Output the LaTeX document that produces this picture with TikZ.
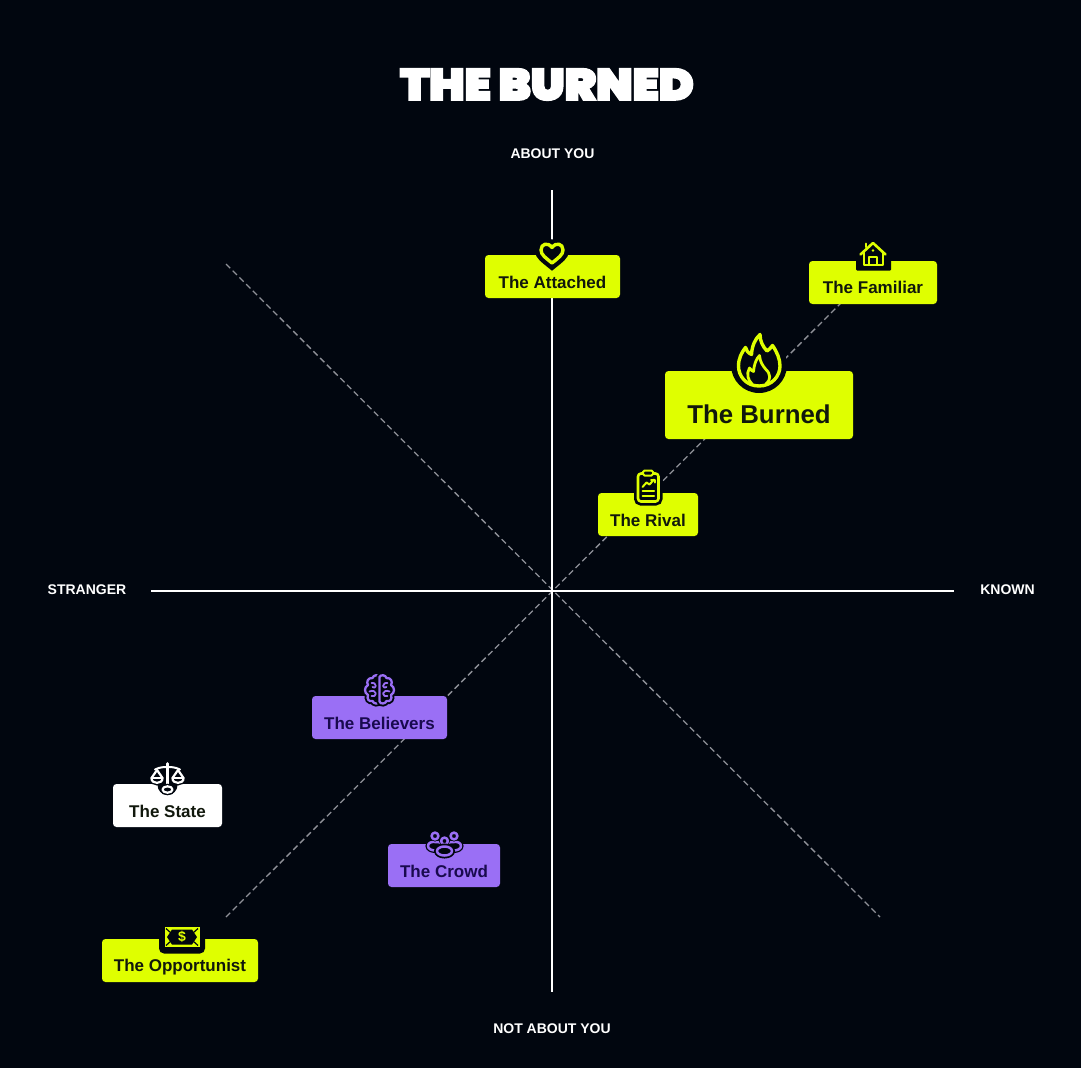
\documentclass[tikz,border=0pt]{standalone}
\usepackage{fontspec}
\setmainfont{Liberation Sans}[BoldFont=* Bold]
\newfontfamily\titlefont[FakeBold=5,FakeStretch=1.08]{Poppins Black}
\definecolor{bg}{HTML}{01060F}
\definecolor{limec}{HTML}{DFFF00}
\definecolor{purp}{HTML}{9A6FF5}
\definecolor{darklime}{HTML}{11180C}
\definecolor{darkpurp}{HTML}{190A4E}
\definecolor{dashc}{HTML}{8F9198}
\newcommand{\lift}[2]{\smash{\raisebox{-#1pt}{#2}}}
\tikzset{
  x=1pt,y=-1pt,
  axisline/.style={draw=white,line width=2pt},
  diag/.style={draw=dashc,line width=1.3pt,dash pattern=on 6pt off 3.5pt},
  tagbox/.style={inner sep=0pt,outer sep=0pt,rounded corners=3.5pt,font=\bfseries\fontsize{17}{20}\selectfont},
  limetag/.style={tagbox,fill=limec,text=darklime},
  purptag/.style={tagbox,fill=purp,text=darkpurp},
  whitetag/.style={tagbox,fill=white,text=darklime},
  axislabel/.style={inner sep=0pt,text=white,font=\bfseries\fontsize{14}{16}\selectfont},
  icon/.style 2 args={draw=#1,line width=2.6pt,line join=round,line cap=round,preaction={draw=bg,fill=bg,line width=#2}},
  detail/.style={draw=#1,line width=2pt,line join=round,line cap=round},
  halo/.style={fill=bg,draw=none}
}
\begin{document}
\begin{tikzpicture}
\fill[bg] (0,0) rectangle (1081,1068);
\useasboundingbox (0,0) rectangle (1081,1068);
% title
\node[inner sep=0pt,text=white] (title) at (547,84.5) {\titlefont\fontsize{43.5}{48}\selectfont THE BURNED};
% axis ends
\coordinate (top) at (552,190);
\coordinate (bottom) at (552,992);
\coordinate (left) at (151,591);
\coordinate (right) at (954,591);
\coordinate (dA) at (226,264);
\coordinate (dB) at (880,917);
\coordinate (dC) at (226,917);
\coordinate (dD) at (880,264);
\draw[diag] (dA) -- (dB);
\draw[diag] (dC) -- (dD);
\draw[axisline] (top) -- (bottom);
\draw[axisline] (left) -- (right);
% axis labels
\node[axislabel] (about) at (552.5,153.5) {ABOUT YOU};
\node[axislabel] (notabout) at (552,1028.5) {NOT ABOUT YOU};
\node[axislabel] (stranger) at (87,589.5) {STRANGER};
\node[axislabel] (known) at (1007.5,589.5) {KNOWN};
% tag boxes
\node[limetag,minimum width=135pt,minimum height=43pt] (attached) at (552.5,276.5) {\lift{11.5}{The Attached}};
\node[limetag,minimum width=128pt,minimum height=43pt] (familiar) at (873,282.5) {\lift{10.5}{The Familiar}};
\node[limetag,minimum width=188pt,minimum height=68pt,font=\bfseries\fontsize{25.8}{30}\selectfont] (burned) at (759,405) {\lift{18}{The Burned}};
\node[limetag,minimum width=100pt,minimum height=43pt] (rival) at (648,514.5) {\lift{11.5}{The Rival}};
\node[purptag,minimum width=135pt,minimum height=43pt] (believers) at (379.5,717.5) {\lift{11.5}{The Believers}};
\node[whitetag,minimum width=109pt,minimum height=43pt] (state) at (167.5,805.5) {\lift{11.5}{The State}};
\node[purptag,minimum width=112pt,minimum height=43pt] (crowd) at (444,865.5) {\lift{11.5}{The Crowd}};
\node[limetag,minimum width=156pt,minimum height=43pt] (opportunist) at (180,960.5) {\lift{11}{The Opportunist}};
% heart
\draw[icon={limec}{12pt},line width=3.4pt] (552,263) .. controls (546,258) and (541,255) .. (541,250) .. controls (541,243.5) and (548,242) .. (552,247.5) .. controls (556,242) and (563,243.5) .. (563,250) .. controls (563,255) and (558,258) .. (552,263) -- cycle;
% house
\fill[halo,rounded corners=1pt] (856,252) rectangle (891,270.5);
\draw[icon={limec}{1pt}] (860.5,254.5) -- (873,243) -- (885.5,254.5);
\draw[detail=limec] (863.5,252) -- (863.5,264.5) -- (882.5,264.5) -- (882.5,252);
\draw[detail=limec] (869,264.5) -- (869,257) -- (877,257) -- (877,264.5);
\draw[detail=limec] (865.5,243.5) -- (865.5,247);
\fill[limec] (873,250.5) circle (1.3);
% flame
\fill[halo] (759,365) circle (28);
\draw[icon={limec}{8pt},line width=3.4pt,miter limit=2] (759,386) .. controls (746,386) and (738.5,376) .. (738.5,366) .. controls (738.5,358) and (742,352) .. (745.5,347.5) .. controls (746,350) and (748,353) .. (751.5,354.5) .. controls (752,346) and (755,339) .. (760,334.5) .. controls (760,341) and (763,347) .. (767,351) .. controls (769,349.5) and (771,348) .. (772.5,345.5) .. controls (777,352) and (780,359) .. (780,366) .. controls (780,376) and (772,386) .. (759,386) -- cycle;
\draw[detail=limec,line width=2.8pt] (752,384) .. controls (748,380) and (746,374) .. (749.5,368) .. controls (751,370) and (752,371) .. (753.5,371.5) .. controls (754,365) and (756,359) .. (759.5,355.5) .. controls (760,362) and (763,366) .. (765.5,369) .. controls (771,374) and (771,380) .. (766,384);
% clipboard
\draw[icon={limec}{8pt},rounded corners=3pt] (638,473.5) rectangle (658.5,501.5);
\draw[detail=limec,rounded corners=1.5pt,fill=bg] (643,470.5) rectangle (653,475.5);
\draw[detail=limec] (642.5,487) -- (646.5,482.5) -- (649.5,484.5) -- (654,479.5);
\draw[detail=limec] (651,479.5) -- (654.5,479.5) -- (654.5,482.5);
\draw[detail=limec] (642.5,491) -- (654,491);
\draw[detail=limec] (642.5,495.5) -- (654,495.5);
% brain
\foreach \mir in {1,-1}{
\begin{scope}[shift={(379.5,690)},xscale=\mir]
\draw[icon={purp}{6pt},line width=2.3pt] (0,-13) .. controls (-1,-15.5) and (-6,-15.5) .. (-7,-12) .. controls (-11.5,-12.5) and (-13.5,-8) .. (-11.5,-5) .. controls (-15.5,-3) and (-15.5,3) .. (-11.5,5) .. controls (-13,9) and (-10.5,12) .. (-7,11) .. controls (-6,14) and (-1,14.5) .. (0,11.5) -- cycle;
\draw[detail=purp,line width=1.8pt] (-8,-7) .. controls (-6,-7.5) and (-4,-7) .. (-3.5,-4) .. controls (-4,-2) and (-6,-2) .. (-7,-3);
\draw[detail=purp,line width=1.8pt] (-10,1.5) .. controls (-7,0) and (-4,1) .. (-3.5,3.5) .. controls (-4,6) and (-6,7) .. (-8,6);
\end{scope}}
% scales
\fill[halo] (167.5,785) circle (10);
\draw[icon={white}{5pt},line width=2.2pt] (157,770) -- (151.5,778) .. controls (151,784.5) and (163,784.5) .. (162.5,778) -- cycle;
\draw[icon={white}{5pt},line width=2.2pt] (178,770) -- (172.5,778) .. controls (172,784.5) and (184,784.5) .. (183.5,778) -- cycle;
\draw[detail=white] (151.5,778) -- (162.5,778);
\draw[detail=white] (172.5,778) -- (183.5,778);
\draw[detail=white] (155,769.5) .. controls (160,767) and (164,767) .. (167.5,767) .. controls (171,767) and (175,767) .. (180,769.5);
\draw[draw=bg,line width=7pt] (167.5,770) -- (167.5,786);
\draw[detail=white,line width=2.8pt] (167.5,763.5) -- (167.5,786);
\draw[icon={white}{5pt},line width=2.2pt] (167.5,789.5) ellipse (5 and 3.2);
% crowd
\draw[icon={purp}{5pt},line width=2.5pt] (428,846) .. controls (428,842.5) and (432,841.5) .. (435,842) .. controls (439,841.5) and (443,843) .. (443,846) .. controls (443,852) and (428,852) .. (428,846) -- cycle;
\draw[icon={purp}{5pt},line width=2.5pt] (446,846) .. controls (446,843) and (450,841.5) .. (454,842) .. controls (457,841.5) and (461,842.5) .. (461,846) .. controls (461,852) and (446,852) .. (446,846) -- cycle;
\draw[icon={purp}{4pt},line width=2.5pt] (435,836) circle (3.4);
\draw[icon={purp}{4pt},line width=2.5pt] (454,836) circle (3.4);
\draw[icon={purp}{4pt},line width=2.5pt] (444.5,841) circle (3.4);
\draw[icon={purp}{6pt},line width=2.5pt] (444.5,851) ellipse (7.5 and 4.5);
% money
\fill[halo,rounded corners=5pt] (159,920) rectangle (205,953.5);
\fill[limec] (164.5,927) rectangle (199.5,947);
\fill[bg] (172,929.5) -- (192,929.5) -- (197,937) -- (192,944.5) -- (172,944.5) -- (167,937) -- cycle;
\draw[draw=bg,line width=1.2pt] (166,928.5) -- (171,933);
\draw[draw=bg,line width=1.2pt] (198,928.5) -- (193,933);
\draw[draw=bg,line width=1.2pt] (166,945.5) -- (171,941);
\draw[draw=bg,line width=1.2pt] (198,945.5) -- (193,941);
\node[inner sep=0pt,text=limec,font=\bfseries\fontsize{14}{16}\selectfont] (dollar) at (182,937) {\$};
\end{tikzpicture}
\end{document}
